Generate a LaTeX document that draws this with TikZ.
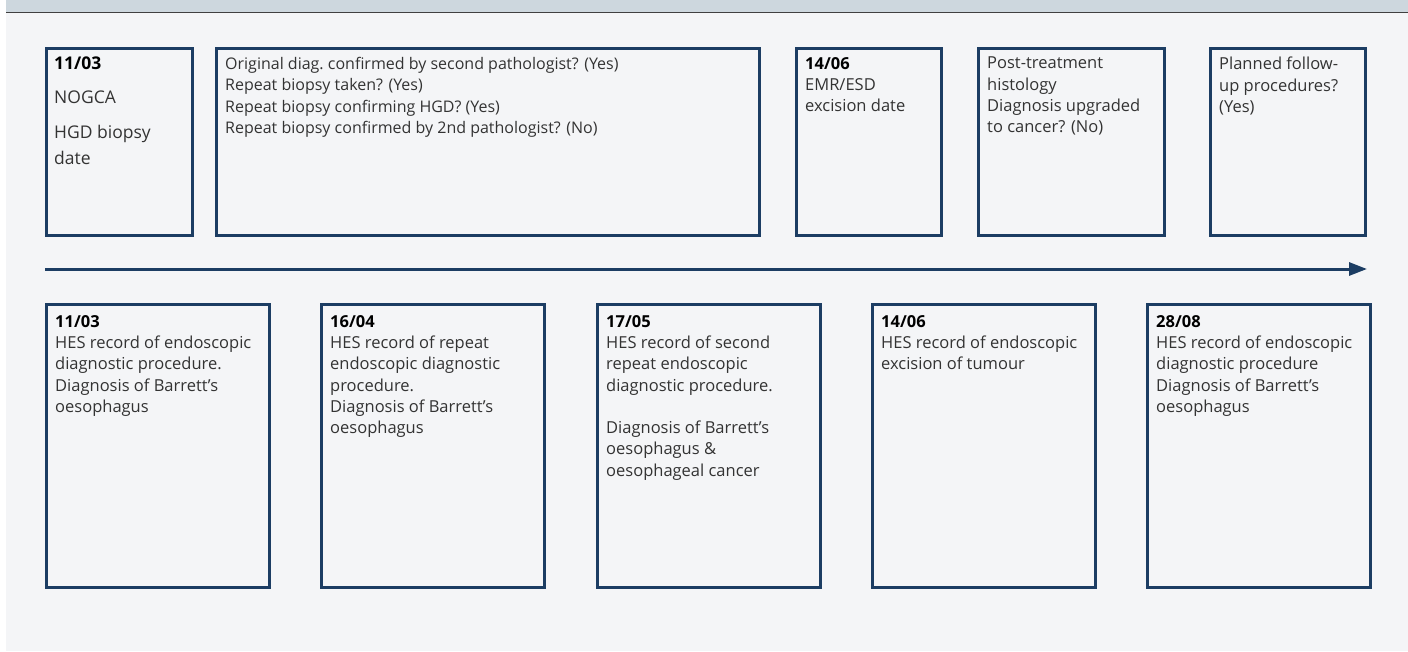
\documentclass[tikz,border=0pt]{standalone}
\usepackage{fontspec}
\setmainfont{Open Sans}
\usetikzlibrary{positioning}
\usetikzlibrary{arrows.meta}
\definecolor{navy}{HTML}{1C3D63}
\definecolor{pagebg}{HTML}{F4F5F7}
\definecolor{barbg}{HTML}{CDD7DE}
\definecolor{txtgrey}{HTML}{333333}

\begin{document}
\begin{tikzpicture}[x=1pt, y=-1pt,
	evbox/.style={rectangle, draw=navy, fill=pagebg, line width=3pt, inner sep=0pt, anchor=north west, minimum height=187pt},
	lowbox/.style={evbox, minimum width=223pt, minimum height=283pt},
	evtext/.style={inner sep=0pt, align=left, text=txtgrey, font=\fontsize{16.5}{21.3}\selectfont}]
	\path[fill=white, use as bounding box] (0,0) rectangle (1408,651);
	\fill[pagebg] (6,0) rectangle (1408,651);
	\fill[barbg] (6,0) rectangle (1408,12);
	\draw[line width=1.2pt, black!75] (6,12.5) -- (1408,12.5);
	% top row: audit data
	\node[evbox, minimum width=146pt] (hgd) at (45,47) {};
	\node[evbox, minimum width=543pt] (checks) at (215,47) {};
	\node[evbox, minimum width=145pt] (emr) at (795,47) {};
	\node[evbox, minimum width=186pt] (histo) at (977,47) {};
	\node[evbox, minimum width=155pt] (followup) at (1209,47) {};
	\node[evtext, font=\fontsize{17.5}{26}\selectfont] (hgdtxt) [below right=10pt and 9pt of hgd.north west] {\textbf{\color{black}11/03}\\[8pt]NOGCA\\[9pt]HGD biopsy\\date};
	\node[evtext, font=\fontsize{16}{21.3}\selectfont] (checkstxt) [below right=10pt and 10pt of checks.north west] {Original diag.\ confirmed by second pathologist? (Yes)\\Repeat biopsy taken? (Yes)\\Repeat biopsy confirming HGD? (Yes)\\Repeat biopsy confirmed by 2nd pathologist? (No)};
	\node[evtext] (emrtxt) [below right=10pt and 10pt of emr.north west] {\textbf{\color{black}14/06}\\EMR/ESD\\excision date};
	\node[evtext] (histotxt) [below right=10pt and 10pt of histo.north west] {Post-treatment\\histology\\Diagnosis upgraded\\to cancer? (No)};
	\node[evtext] (followuptxt) [below right=10pt and 10pt of followup.north west] {Planned follow-\\up procedures?\\(Yes)};
	% timeline
	\coordinate (tstart) at (45,269);
	\coordinate (tend) at (1367,269);
	\draw[navy, line width=3pt, -{Triangle[length=18pt,width=13pt]}] (tstart) -- (tend);
	% bottom row: HES records
	\node[lowbox] (hes1) at (45,303) {};
	\node[lowbox] (hes2) [right=49pt of hes1] {};
	\node[lowbox] (hes3) [right=50pt of hes2] {};
	\node[lowbox] (hes4) [right=49pt of hes3] {};
	\node[lowbox] (hes5) [right=49pt of hes4] {};
	\node[evtext] (hes1txt) [below right=12pt and 10pt of hes1.north west] {\textbf{\color{black}11/03}\\HES record of endoscopic\\diagnostic procedure.\\Diagnosis of Barrett’s\\oesophagus};
	\node[evtext] (hes2txt) [below right=12pt and 10pt of hes2.north west] {\textbf{\color{black}16/04}\\HES record of repeat\\endoscopic diagnostic\\procedure.\\Diagnosis of Barrett’s\\oesophagus};
	\node[evtext] (hes3txt) [below right=12pt and 10pt of hes3.north west] {\textbf{\color{black}17/05}\\HES record of second\\repeat endoscopic\\diagnostic procedure.\\[21.3pt]Diagnosis of Barrett’s\\oesophagus \&\\oesophageal cancer};
	\node[evtext] (hes4txt) [below right=12pt and 10pt of hes4.north west] {\textbf{\color{black}14/06}\\HES record of endoscopic\\excision of tumour};
	\node[evtext] (hes5txt) [below right=12pt and 10pt of hes5.north west] {\textbf{\color{black}28/08}\\HES record of endoscopic\\diagnostic procedure\\Diagnosis of Barrett’s\\oesophagus};
\end{tikzpicture}
\end{document}
